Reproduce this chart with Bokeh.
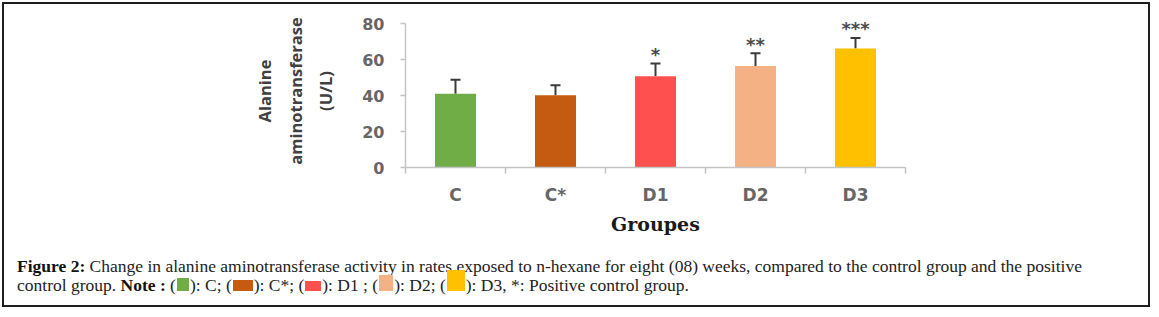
from bokeh.plotting import figure
from bokeh.layouts import column
from bokeh.models import (ColumnDataSource, Range1d, FixedTicker, Whisker, TeeHead,
                          LinearAxis, Div)
from bokeh.core.properties import value
from bokeh.embed import file_html
from bokeh.resources import INLINE

# ---- data ----
groups = ["C", "C*", "D1", "D2", "D3"]
means = [41.0, 40.2, 50.7, 56.4, 66.1]
errors = [7.8, 5.5, 7.1, 7.1, 5.9]
stars = ["", "", "*", "**", "***"]
colors = ["#70AD47", "#C55A11", "#FF5050", "#F4B183", "#FFC000"]
y_ticks = [0, 20, 40, 60, 80]
y_title = "Alanine\naminotransferase\n(U/L)"
x_title = "Groupes"
caption_line1 = ("Change in alanine aminotransferase activity in rates exposed to n-hexane "
                 "for eight (08) weeks, compared to the control group and the positive")
caption_tail = "Positive control group."

x_pos = [i + 0.5 for i in range(len(groups))]
upper = [m + e for m, e in zip(means, errors)]
src = ColumnDataSource(dict(x=x_pos, top=means, upper=upper, color=colors,
                            star=stars, group=groups))

W = 1152
H1, H2 = 245, 64
FL, FR, FT, FB = 405, 905, 14, 167   # chart frame edges

p = figure(width=W, height=H1, output_backend="svg", toolbar_location=None,
           x_range=Range1d(0, len(groups)), y_range=Range1d(0, 85),
           min_border_left=FL, min_border_right=W - FR,
           min_border_top=FT, min_border_bottom=H1 - FB,
           x_axis_type=None, y_axis_type=None)
p.outline_line_color = None
p.background_fill_color = None
p.border_fill_color = None

axis_col = "#c4c4c4"
xaxis = LinearAxis(
    ticker=FixedTicker(ticks=x_pos, minor_ticks=list(range(len(groups) + 1))),
    major_label_overrides={xx: g for xx, g in zip(x_pos, groups)},
    major_tick_line_color=None, major_tick_in=0, major_tick_out=6,
    minor_tick_in=0, minor_tick_out=6, minor_tick_line_color=axis_col,
    minor_tick_line_width=1.5,
    axis_line_color=axis_col, axis_line_width=1.5,
    major_label_text_font="DejaVu Sans", major_label_text_font_style="bold",
    major_label_text_font_size="17px", major_label_text_color="#666666",
    major_label_standoff=11,
    axis_label=x_title, axis_label_text_font="DejaVu Serif",
    axis_label_text_font_style="bold", axis_label_text_font_size="19px",
    axis_label_text_color="#1a1a1a", axis_label_standoff=5)
p.add_layout(xaxis, "below")

yaxis = LinearAxis(
    ticker=FixedTicker(ticks=y_ticks, minor_ticks=[]), bounds=(0, 80),
    major_tick_in=0, major_tick_out=5, major_tick_line_color=axis_col,
    major_tick_line_width=1.5,
    axis_line_color=axis_col, axis_line_width=1.5,
    major_label_text_font="DejaVu Sans", major_label_text_font_style="bold",
    major_label_text_font_size="16px", major_label_text_color="#666666",
    major_label_standoff=16,
    axis_label=y_title, axis_label_text_font="Open Sans",
    axis_label_text_font_style="bold", axis_label_text_font_size="16.5px",
    axis_label_text_color="#404040", axis_label_text_line_height=1.33,
    axis_label_standoff=22)
p.add_layout(yaxis, "left")

p.vbar(x="x", top="top", bottom=0, width=0.41, fill_color="color",
       line_color=None, source=src)

p.add_layout(Whisker(base="x", lower="top", upper="upper", source=src,
                     dimension="height", line_color="#3a3a3a", line_width=2,
                     lower_head=None,
                     upper_head=TeeHead(size=10, line_color="#3a3a3a", line_width=2)))

p.text(x="x", y="upper", text="star", source=src, text_font=value("DejaVu Sans"),
       text_font_style="bold", text_font_size="18px", text_align="center",
       text_baseline="middle", y_offset=-9, text_color="#4a4a4a")

# ---- caption (HTML text with inline colour keys) ----
sw_w = [12, 20, 16, 14, 18]
sw_h = [13, 11, 10, 16, 21]
seps = [";", ";", " ;", ";", ","]


def swatch(i):
    return ('<span style="display:inline-block;width:%dpx;height:%dpx;background:%s;'
            'margin:-%dpx 1px 0 1px;vertical-align:baseline;"></span>'
            % (sw_w[i], sw_h[i], colors[i], max(sw_h[i] - 10, 0)))


keys = " ".join("(%s): %s%s" % (swatch(i), g, s) for i, (g, s) in enumerate(zip(groups, seps)))
cap_html = (
    '<div style="font-family:\'Liberation Serif\',serif;font-size:17.5px;line-height:19px;'
    'letter-spacing:0px;color:#222222;white-space:nowrap;padding:12px 0 0 17px;margin:0;">'
    '<b style="color:#111111">Figure 2:</b> ' + caption_line1 + '<br>'
    'control group. <b style="color:#111111">Note :</b> ' + keys + ' *: ' + caption_tail +
    '</div>')
cap = Div(text=cap_html, width=W, height=H2, margin=(0, 0, 0, 0))

layout = column(p, cap, spacing=0,
                styles={"outline": "2px solid #1e1e1e", "outline-offset": "-4px"})

open("out.html", "w").write(file_html(layout, INLINE))
